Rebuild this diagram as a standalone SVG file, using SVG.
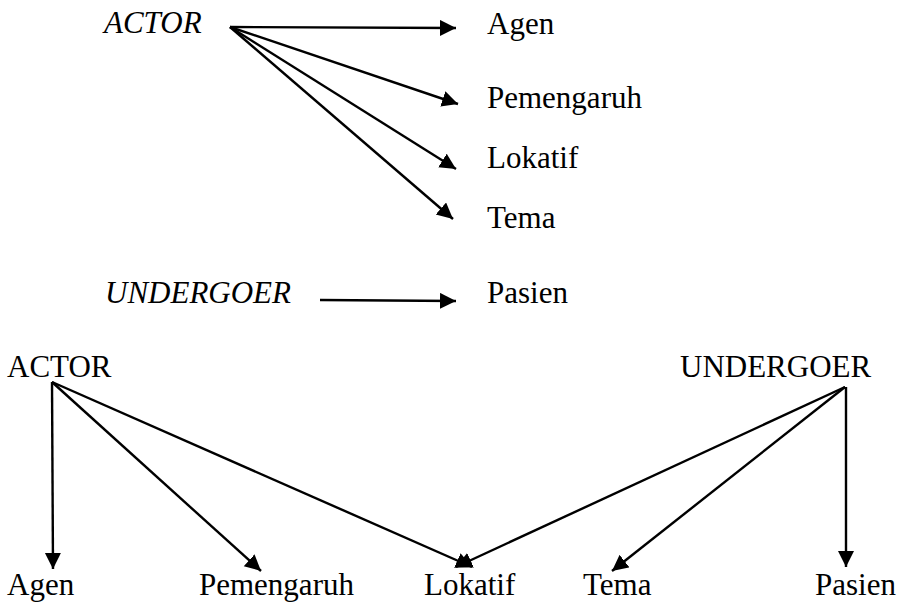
<svg xmlns="http://www.w3.org/2000/svg" width="901" height="603" viewBox="0 0 901 603">
<style>
text{font-family:"Liberation Serif","Times New Roman",serif;font-size:31px;fill:#000}
.it{font-style:italic}
.c line{stroke:#000;stroke-width:2.4;marker-end:url(#ah)}
</style>
<defs>
<marker id="ah" markerUnits="userSpaceOnUse" markerWidth="18" markerHeight="18" refX="16" refY="8" orient="auto">
<path d="M0,0 L16,8 L0,16 z" fill="#000"/>
</marker>
</defs>
<rect width="901" height="603" fill="#fff"/>
<g id="top-actor"><text class="it" x="104" y="33">ACTOR</text></g>
<g id="top-agen"><text x="487" y="34">Agen</text></g>
<g id="top-pemengaruh"><text x="487" y="108">Pemengaruh</text></g>
<g id="top-lokatif"><text x="487" y="168">Lokatif</text></g>
<g id="top-tema"><text x="487" y="228">Tema</text></g>
<g id="top-undergoer"><text class="it" x="105" y="303">UNDERGOER</text></g>
<g id="top-pasien"><text x="487" y="303">Pasien</text></g>
<g id="bot-actor"><text x="7" y="377">ACTOR</text></g>
<g id="bot-undergoer"><text x="680" y="377">UNDERGOER</text></g>
<g id="bot-agen"><text x="7" y="595">Agen</text></g>
<g id="bot-pemengaruh"><text x="199" y="595">Pemengaruh</text></g>
<g id="bot-lokatif"><text x="424" y="595">Lokatif</text></g>
<g id="bot-tema"><text x="583" y="595">Tema</text></g>
<g id="bot-pasien"><text x="815" y="595">Pasien</text></g>
<g class="c" id="connectors">
<line x1="230" y1="27" x2="456" y2="28"/>
<line x1="230" y1="27" x2="458" y2="104"/>
<line x1="230" y1="27" x2="456" y2="169"/>
<line x1="230" y1="27" x2="453" y2="219"/>
<line x1="320" y1="300" x2="456" y2="301"/>
<line x1="52" y1="382" x2="53" y2="569"/>
<line x1="52" y1="382" x2="261" y2="571"/>
<line x1="52" y1="382" x2="472" y2="567"/>
<line x1="845" y1="387" x2="456" y2="567"/>
<line x1="845" y1="387" x2="612" y2="571"/>
<line x1="846" y1="387" x2="846" y2="567"/>
</g>
</svg>
